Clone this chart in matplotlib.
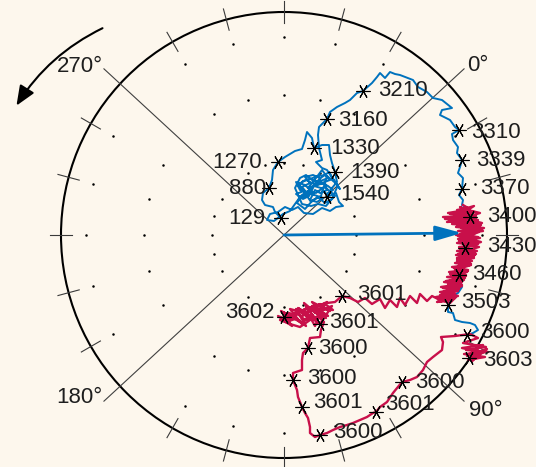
import numpy as np
import matplotlib
matplotlib.use("Agg")
import matplotlib.pyplot as plt
from matplotlib.patches import Circle, FancyArrowPatch

plt.rcParams['font.family'] = ['Liberation Sans', 'DejaVu Sans']

# ---------------- data (chart frame: x to the right, y downward) ----------------
blue_x = [281, 275, 273, 265, 262, 263, 269, 272, 273, 278, 285, 295, 302, 305, 307, 312, 314, 322, 329, 330,
          332, 335, 337, 332, 327, 336, 339, 343, 336, 330, 322, 313, 304, 298, 292, 285, 278, 270, 267, 274,
          283, 290,
          300, 307, 302, 310, 305, 313, 320, 317, 325, 327, 320, 315, 310, 317, 323, 300, 296, 305, 312, 298,
          318, 328, 322, 316, 308, 330, 325, 318, 310, 303, 298, 304, 296, 303, 309, 314, 321, 326, 333, 328,
          320, 312, 306, 300, 295, 302, 311, 318, 326, 331, 335, 330, 324, 316, 308, 302, 297, 305, 313, 321,
          327, 338, 332, 325, 318, 311, 305, 299, 306, 314, 322, 329, 335, 340, 333, 327, 322, 316,
          322, 319, 318, 319, 327, 330, 337, 345, 350, 357, 363, 372, 377, 380, 385, 390, 395, 400, 413, 418,
          427, 433, 442, 452, 442, 440, 450, 455, 459, 452, 453, 458, 457, 462, 460, 458, 463, 462, 459, 463,
          462, 467, 470, 466, 464, 465, 462, 459, 462, 458, 450, 448, 448, 453, 455, 462, 470, 475, 478, 473, 467]
blue_y = [218, 212, 207, 205, 200, 193, 188, 180, 170, 162, 157, 151, 149, 140, 132, 138, 148, 145, 145, 155,
          163, 172, 182, 188, 197, 193, 202, 206, 207, 211, 208, 214, 213, 207, 210, 207, 212, 214, 220, 221,
          214, 211,
          197, 193, 187, 183, 177, 175, 178, 185, 183, 190, 193, 190, 200, 202, 198, 190, 182, 185, 192, 200,
          182, 178, 170, 178, 188, 180, 175, 176, 179, 181, 186, 191, 194, 199, 196, 186, 188, 194, 190, 186,
          182, 180, 175, 178, 188, 204, 206, 204, 206, 200, 196, 191, 187, 193, 191, 195, 203, 209, 200, 196,
          176, 185, 199, 203, 197, 202, 193, 184, 180, 184, 177, 172, 182, 189, 179, 170, 168, 162,
          160, 148, 135, 127, 119, 112, 107, 103, 100, 93, 91, 83, 77, 73, 78, 72, 74, 75, 80, 87,
          92, 98, 100, 108, 110, 115, 120, 127, 130, 134, 140, 147, 153, 160, 167, 173, 178, 189, 195, 200,
          205, 208, 217, 228, 240, 248, 260, 275, 287, 293, 297, 305, 312, 313, 320, 322, 323, 325, 330, 333, 335]

red_x = [463, 468, 457, 474, 450, 476, 443, 455, 447, 478, 452, 480, 456, 482, 458, 476, 456, 478, 458, 474,
         457, 476, 459, 473, 457, 475, 456, 471, 457, 472, 455, 470, 452, 468, 449, 466, 447, 463, 444, 461,
         441, 459, 440, 455, 436, 452, 437, 446,
         455, 440, 458, 443, 462, 446, 465, 450, 468, 454, 471, 457, 474, 458, 477, 460, 478, 459, 480, 460,
         483, 461, 481, 452, 476, 445, 470, 448, 466, 460,
         472, 455, 479, 457, 484, 462, 475, 463, 479, 461, 474, 462, 470, 458, 467, 452, 464, 448, 460, 443,
         458, 438, 450,
         456, 444, 462, 449, 466, 455, 471, 458, 476, 460, 477, 462, 479, 461, 482, 463, 480, 464, 474, 466,
         471, 460, 477, 458, 481, 460, 475, 457, 469, 460, 466, 452, 462, 447, 458, 442, 454, 440,
         432, 427, 420, 417, 410, 405, 400, 397, 390, 385, 380, 372, 365, 358, 350, 342, 335, 327, 320,
         330, 312, 326, 306, 318, 300, 312, 296, 306, 289, 300, 281, 292, 278, 288, 284, 296, 302, 309, 315,
         325, 333, 318, 328, 312, 322, 304, 316, 298, 308, 290, 300, 283, 295, 286, 298, 305, 312, 320,
         332, 315, 327, 308, 320, 302, 314, 293, 306, 285, 297, 280, 290, 300, 310, 318, 324,
         321, 320, 310, 308, 303, 302, 302, 293, 293, 297, 298, 302, 305, 308, 310, 310, 315, 320, 327, 333,
         340, 347, 353, 360, 367, 373, 376, 380, 387, 393, 402, 410, 417, 423, 427, 433, 442, 443, 441, 455,
         470, 478, 463, 486, 466, 488, 464, 485, 468, 480, 462, 483, 467, 487, 472, 478, 470]
red_y = [205, 208, 210, 212, 214, 216, 217, 219, 222, 220, 224, 226, 227, 229, 231, 233, 235, 237, 239, 241,
         243, 245, 247, 249, 251, 253, 255, 257, 259, 261, 263, 265, 267, 270, 272, 275, 277, 279, 282, 284,
         287, 289, 292, 294, 297, 299, 302, 301,
         298, 295, 291, 288, 285, 281, 278, 274, 271, 268, 264, 261, 258, 254, 251, 248, 244, 241, 238, 234,
         231, 228, 225, 222, 219, 219, 215, 213, 210, 207,
         214, 216, 224, 226, 228, 236, 239, 244, 247, 252, 256, 260, 262, 266, 272, 276, 280, 284, 287, 292,
         296, 299, 303,
         297, 292, 286, 281, 276, 270, 265, 259, 254, 249, 243, 238, 232, 227, 223, 218, 213, 209, 206, 211,
         219, 223, 230, 236, 242, 248, 255, 258, 262, 268, 271, 276, 282, 287, 290, 294, 298, 300,
         296, 301, 294, 303, 296, 305, 298, 307, 300, 308, 299, 304, 298, 302, 298, 296, 302, 303, 305,
         311, 302, 318, 307, 322, 311, 320, 309, 326, 313, 321, 311, 326, 316, 320, 317, 318, 324, 315, 326,
         304, 310, 309, 316, 306, 318, 303, 320, 308, 314, 309, 322, 312, 319, 322, 314, 320, 318, 324,
         306, 313, 302, 311, 304, 316, 306, 314, 309, 318, 312, 320, 324, 327, 320, 316, 322,
         330, 337, 338, 348, 353, 360, 370, 373, 380, 390, 397, 407, 413, 418, 427, 433, 437, 435, 433, 430,
         427, 425, 423, 420, 417, 413, 412, 407, 402, 393, 382, 380, 377, 370, 362, 357, 350, 342, 337, 336,
         334, 338, 343, 347, 350, 352, 354, 357, 360, 352, 348, 345, 356, 349, 361, 355, 358]

# time stamps along the tracks
blue_mark_x = [281, 269, 278, 314, 335, 327, 327, 363, 459, 462, 462, 470, 465, 459, 448, 467]
blue_mark_y = [218, 188, 162, 148, 172, 197, 119, 91, 130, 160, 189, 217, 248, 275, 305, 335]
blue_mark_lab = ['129', '880', '1270', '1330', '1390', '1540', '3160', '3210', '3310', '3339', '3370',
                 '3400', '3430', '3460', '3503', '3600']
red_mark_x = [342, 284, 320, 308, 293, 302, 320, 376, 402, 469]
red_mark_y = [296, 317, 324, 348, 380, 407, 435, 412, 382, 358]
red_mark_lab = ['3601', '3602', '3601', '3600', '3600', '3601', '3600', '3601', '3600', '3603']

# mean direction arrow (tip)
arrow_tip = (462, 233)

angle_labels = ['0°', '90°', '180°', '270°']

# ---------------- layout / style ----------------
W, H = 536, 467
CX, CY, R = 284, 235, 223
BG = '#fdf7ed'
BLUE = '#0072BD'
RED = '#C8104A'
TXT = '#1e1e1e'
FS = 16
PX = 0.72  # points per pixel at 100 dpi

# label placement (pixels from marker; negative dx = label on the left)
blue_lab_off = [(-16, 0), (-3, 0), (-16, 0), (16, 1), (15, 1), (13, -2), (11, 1), (15, 0),
                (12, 2), (14, 0), (18, -1), (17, 0), (22, -1), (13, 0), (13, -2), (13, -2)]
red_lab_off = [(15, -1), (-9, -4), (9, -1), (10, 0), (14, -2), (11, -4), (13, -2), (9, -7),
               (13, 0), (14, 2)]

fig = plt.figure(figsize=(W / 100, H / 100), dpi=100, facecolor=BG)
ax = fig.add_axes([0, 0, 1, 1])
ax.set_facecolor(BG)
ax.set_xlim(0, W)
ax.set_ylim(H, 0)
ax.axis('off')

# outer circle
ax.add_patch(Circle((CX, CY), R, fill=False, ec='black', lw=1.5, zorder=2))

# diagonal axes (rotated compass)
diag = np.deg2rad(42.7)
for a in [diag, np.pi - diag]:
    rr = 245
    ax.plot([CX - rr * np.cos(a), CX + rr * np.cos(a)],
            [CY + rr * np.sin(a), CY - rr * np.sin(a)], color='#404040', lw=0.8, zorder=2)

# ticks and dots every 15 degrees (not on the diagonals)
for k in range(24):
    a = np.deg2rad(15 * k)
    if (15 * k) % 90 == 45:
        continue
    ca, sa = np.cos(a), np.sin(a)
    ax.plot([CX + (R - 11) * ca, CX + (R + 11) * ca],
            [CY - (R - 11) * sa, CY - (R + 11) * sa], color='#3a3a3a', lw=0.8, zorder=2)
    for rr in (72, 140, 198):
        ax.plot(CX + rr * ca, CY - rr * sa, 'o', ms=1.8, color='black', mec='none', zorder=1)

# angle labels at the ends of diagonals
lab_pos = [(diag, 'left', 'center', 3, -3),
           (-diag, 'left', 'center', 5, 9),
           (np.pi + diag, 'right', 'center', -1, -4),
           (np.pi - diag, 'right', 'center', -1, -2)]
for lab, (a, ha, va, dx, dy) in zip(angle_labels, lab_pos):
    rr = 245
    ax.text(CX + rr * np.cos(a) + dx, CY - rr * np.sin(a) + dy, lab, ha=ha, va=va,
            fontsize=FS, color=TXT)

# rotation sense arrow
ax.add_patch(FancyArrowPatch((105, 27), (15, 108), connectionstyle='arc3,rad=0.15',
                             arrowstyle='-|>,head_length=12,head_width=5',
                             mutation_scale=1, color='black', lw=1.5, zorder=3))

# tracks
ax.plot(blue_x, blue_y, color=BLUE, lw=1.4, zorder=4)
ax.plot(red_x, red_y, color=RED, lw=1.7, zorder=5)

# mean direction arrow
ax.add_patch(FancyArrowPatch((CX, CY), arrow_tip, arrowstyle='-|>,head_length=16,head_width=4.5',
                             mutation_scale=1, color=BLUE, lw=2.0, zorder=6,
                             shrinkA=0, shrinkB=0))

# time markers with labels
mk = (6, 2, 90)
for xs, ys, labs, offs in [(blue_mark_x, blue_mark_y, blue_mark_lab, blue_lab_off),
                           (red_mark_x, red_mark_y, red_mark_lab, red_lab_off)]:
    ax.plot(xs, ys, ls='none', marker=mk, ms=10, mec='black', mew=0.8, zorder=7)
    for x, y, lab, (dx, dy) in zip(xs, ys, labs, offs):
        ax.annotate(lab, (x, y), xytext=(dx * PX, -dy * PX), textcoords='offset points',
                    ha='right' if dx < 0 else 'left', va='center', fontsize=FS, color=TXT, zorder=8)

fig.savefig('out.png', dpi=100, facecolor=BG)
